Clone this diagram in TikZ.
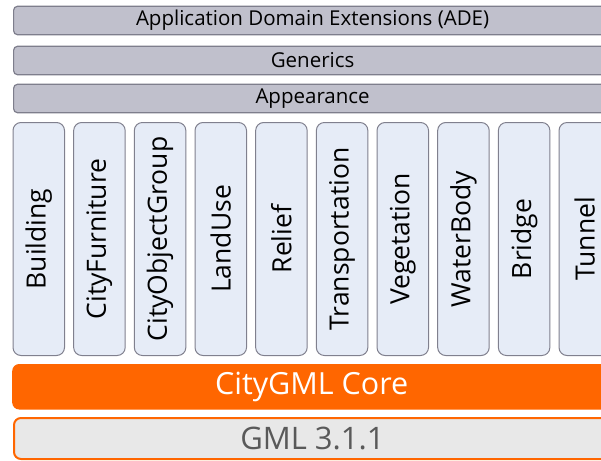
\documentclass[tikz,border=0pt]{standalone}
\usepackage{fontspec}
\setmainfont{Open Sans}
\definecolor{barfill}{HTML}{C0C0CC}
\definecolor{bardraw}{HTML}{7E7E8C}
\definecolor{colfill}{HTML}{E6ECF7}
\definecolor{coldraw}{HTML}{80808E}
\definecolor{coreorange}{HTML}{FF6600}
\definecolor{gmlfill}{HTML}{E8E8E8}
\definecolor{gmltext}{HTML}{595959}
\begin{document}
\begin{tikzpicture}[x=1pt,y=-1pt,
  bar/.style={draw=bardraw,fill=barfill,line width=1.2pt,rounded corners=4pt,
    minimum width=598pt,minimum height=28.5pt,inner sep=0pt,font=\fontsize{20.5}{22}\selectfont,anchor=west},
  col/.style={draw=coldraw,fill=colfill,line width=1pt,rounded corners=8pt,
    minimum width=51.5pt,minimum height=233pt,inner sep=0pt},
  coltext/.style={rotate=90,font=\fontsize{26.5}{30}\selectfont},
  core/.style={fill=coreorange,rounded corners=7pt,minimum width=599pt,minimum height=45.5pt,
    inner sep=0pt,text=white,font=\fontsize{30.5}{34}\selectfont,anchor=west},
  gml/.style={draw=coreorange,fill=gmlfill,line width=2pt,rounded corners=7pt,minimum width=597pt,
    minimum height=41pt,inner sep=0pt,text=gmltext,font=\fontsize{31}{34}\selectfont,anchor=west}]
\useasboundingbox (0,0) rectangle (601,460);
\clip (0,0) rectangle (601,460);
\node[bar] (ade) at (13,20.5) {Application Domain Extensions (ADE)};
\node[bar] (gen) at (13,60.5) {Generics};
\node[bar] (app) at (13,98.5) {Appearance};
\foreach \n/\t [count=\i from 0] in {bld/Building,cf/CityFurniture,cog/CityObjectGroup,lu/LandUse,rel/Relief,tra/Transportation,veg/Vegetation,wb/WaterBody,br/Bridge,tun/Tunnel}{
  \node[col] (\n) at ({13+25.75+60.67*\i},239) {};
  \node[coltext] (\n-t) at (\n.center) {\t};
}
\node[core] (core) at (12,386.75) {CityGML Core};
\node[gml] (gml) at (13,438.5) {GML 3.1.1};
\end{tikzpicture}
\end{document}
